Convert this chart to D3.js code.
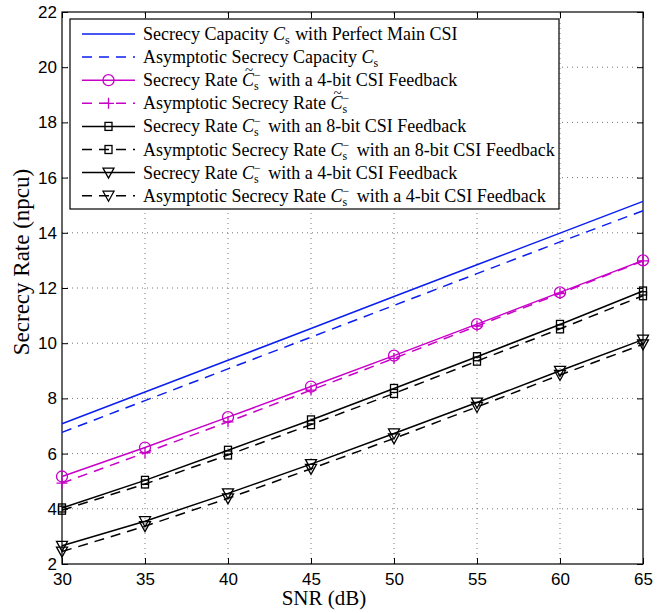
<!DOCTYPE html>
<html lang="en">
<head>
<meta charset="UTF-8">
<title>Secrecy Rate vs SNR</title>
<script src="https://cdn.jsdelivr.net/npm/d3@7/dist/d3.min.js"></script>
<style>
    body { margin: 0; background: #fff; }
    svg text { fill: #000; }
</style>
</head>
<body>
<div id="chart"></div>
<script>
// data
const snr = [30, 35, 40, 45, 50, 55, 60, 65];
const capPerfect   = [7.08, 8.23, 9.38, 10.53, 11.69, 12.84, 13.99, 15.14];
const capAsym      = [6.77, 7.92, 9.07, 10.22, 11.37, 12.52, 13.67, 14.80];
const rate4Tilde   = [5.17, 6.22, 7.32, 8.43, 9.55, 10.69, 11.84, 13.00];
const asym4Tilde   = [4.93, 6.03, 7.15, 8.30, 9.45, 10.62, 11.80, 12.98];
const rate8        = [4.03, 5.03, 6.12, 7.22, 8.36, 9.51, 10.68, 11.89];
const asym8        = [3.95, 4.90, 5.95, 7.05, 8.18, 9.35, 10.52, 11.72];
const rate4        = [2.66, 3.55, 4.56, 5.62, 6.73, 7.85, 9.00, 10.13];
const asym4        = [2.45, 3.37, 4.38, 5.45, 6.55, 7.69, 8.85, 9.96];
const xTicks = [30, 35, 40, 45, 50, 55, 60, 65];
const yTicks = [2, 4, 6, 8, 10, 12, 14, 16, 18, 20, 22];

const width = 670, height = 613;
const margin = { top: 12, right: 27, bottom: 49, left: 62 };

const BLUE = '#0a1ef0', MAG = '#c800c8', BLK = '#000';
const DASH = '10,7';

// label parts: n normal text, c script C, t tilde C, s subscript, ps sub+minus superscript
const series = [
    { y: capPerfect, color: BLUE, dash: null, marker: null,
      label: [['Secrecy Capacity ', 'n'], ['C', 'c'], ['s', 's'], [' with Perfect Main CSI', 'n']] },
    { y: capAsym, color: BLUE, dash: DASH, marker: null,
      label: [['Asymptotic Secrecy Capacity ', 'n'], ['C', 'c'], ['s', 's']] },
    { y: rate4Tilde, color: MAG, dash: null, marker: 'circle',
      label: [['Secrecy Rate ', 'n'], ['C', 't'], ['s', 'ps'], [' with a 4-bit CSI Feedback', 'n']] },
    { y: asym4Tilde, color: MAG, dash: DASH, marker: 'plus',
      label: [['Asymptotic Secrecy Rate ', 'n'], ['C', 't'], ['s', 'ps']] },
    { y: rate8, color: BLK, dash: null, marker: 'square',
      label: [['Secrecy Rate ', 'n'], ['C', 'c'], ['s', 'ps'], [' with an 8-bit CSI Feedback', 'n']] },
    { y: asym8, color: BLK, dash: DASH, marker: 'square',
      label: [['Asymptotic Secrecy Rate ', 'n'], ['C', 'c'], ['s', 'ps'], [' with an 8-bit CSI Feedback', 'n']] },
    { y: rate4, color: BLK, dash: null, marker: 'triangle',
      label: [['Secrecy Rate ', 'n'], ['C', 'c'], ['s', 'ps'], [' with a 4-bit CSI Feedback', 'n']] },
    { y: asym4, color: BLK, dash: DASH, marker: 'triangle',
      label: [['Asymptotic Secrecy Rate ', 'n'], ['C', 'c'], ['s', 'ps'], [' with a 4-bit CSI Feedback', 'n']] }
];

const svg = d3.select('#chart').append('svg')
    .attr('width', width).attr('height', height);

const x = d3.scaleLinear().domain([30, 65]).range([margin.left, width - margin.right]);
const y = d3.scaleLinear().domain([2, 22]).range([height - margin.bottom, margin.top]);
const x0 = x.range()[0], x1 = x.range()[1], y0 = y.range()[0], y1 = y.range()[1];

// grid
const grid = svg.append('g').attr('stroke', '#777').attr('stroke-width', 1)
    .attr('stroke-dasharray', '1,4');
grid.selectAll('.gx').data(xTicks.slice(1, -1)).enter().append('line')
    .attr('x1', d => x(d)).attr('x2', d => x(d)).attr('y1', y0).attr('y2', y1);
grid.selectAll('.gy').data(yTicks.slice(1, -1)).enter().append('line')
    .attr('y1', d => y(d)).attr('y2', d => y(d)).attr('x1', x0).attr('x2', x1);

// axes (ticks inward, mirrored on top/right)
const font = 'Liberation Sans, Arial, sans-serif';
const serif = 'Liberation Serif, Times New Roman, serif';
svg.append('g').attr('transform', `translate(0,${y0})`)
    .call(d3.axisBottom(x).tickValues(xTicks).tickSize(-6).tickPadding(9));
svg.append('g').attr('transform', `translate(${x0},0)`)
    .call(d3.axisLeft(y).tickValues(yTicks).tickSize(-6).tickPadding(5));
svg.append('g').attr('transform', `translate(0,${y1})`)
    .call(d3.axisTop(x).tickValues(xTicks).tickSize(-6).tickFormat(''));
svg.append('g').attr('transform', `translate(${x1},0)`)
    .call(d3.axisRight(y).tickValues(yTicks).tickSize(-6).tickFormat(''));
svg.selectAll('.domain').remove();
svg.selectAll('.tick line').attr('stroke', '#000');
svg.selectAll('.tick text').style('font-family', font).style('font-size', '17px').attr('fill', '#000');

// frame
svg.append('rect').attr('x', x0).attr('y', y1).attr('width', x1 - x0).attr('height', y0 - y1)
    .attr('fill', 'none').attr('stroke', '#000').attr('stroke-width', 1.2);

// axis titles
svg.append('text').attr('x', 324).attr('y', 605)
    .attr('text-anchor', 'middle')
    .style('font-family', serif).style('font-size', '21px')
    .text('SNR (dB)');
svg.append('text').attr('transform', 'translate(29,262) rotate(-90)')
    .attr('text-anchor', 'middle')
    .style('font-family', serif).style('font-size', '23px')
    .text('Secrecy Rate (npcu)');

function drawMarker(g, type, cx, cy, color) {
    if (type === 'circle') {
        g.append('circle').attr('cx', cx).attr('cy', cy).attr('r', 5.5)
            .attr('fill', 'none').attr('stroke', color).attr('stroke-width', 1.3);
    } else if (type === 'plus') {
        g.append('path').attr('d', `M${cx - 5.5},${cy}H${cx + 5.5}M${cx},${cy - 5.5}V${cy + 5.5}`)
            .attr('stroke', color).attr('stroke-width', 1.3).attr('fill', 'none');
    } else if (type === 'square') {
        g.append('rect').attr('x', cx - 3.5).attr('y', cy - 4).attr('width', 7).attr('height', 8)
            .attr('fill', 'none').attr('stroke', color).attr('stroke-width', 1.3);
    } else if (type === 'triangle') {
        g.append('path').attr('d', `M${cx - 5.5},${cy - 4.5}L${cx + 5.5},${cy - 4.5}L${cx},${cy + 5.5}Z`)
            .attr('fill', 'none').attr('stroke', color).attr('stroke-width', 1.3);
    }
}

// series
const line = d3.line().x((d, i) => x(snr[i])).y(d => y(d));
const plot = svg.append('g');
series.forEach(s => {
    plot.append('path').attr('d', line(s.y))
        .attr('fill', 'none').attr('stroke', s.color).attr('stroke-width', 1.5)
        .attr('stroke-dasharray', s.dash);
    if (s.marker) {
        s.y.forEach((v, i) => drawMarker(plot, s.marker, x(snr[i]), y(v), s.color));
    }
});

// legend
const lg = svg.append('g');
lg.append('rect').attr('x', 70).attr('y', 19).attr('width', 489).attr('height', 190)
    .attr('fill', '#fff').attr('stroke', '#000').attr('stroke-width', 1.2);

// one text per row, pieces as tspans with explicit positions
function piece(t, px, py, txt, size, italic, anchor) {
    const sp = t.append('tspan').attr('x', px).attr('y', py)
        .style('font-size', size + 'px')
        .style('font-style', italic ? 'italic' : 'normal')
        .attr('text-anchor', anchor || null)
        .text(txt);
    return sp.node().getComputedTextLength();
}

series.forEach((s, i) => {
    const cy = 34 + i * 23.1;
    lg.append('line').attr('x1', 82).attr('x2', 135).attr('y1', cy).attr('y2', cy)
        .attr('stroke', s.color).attr('stroke-width', 1.5)
        .attr('stroke-dasharray', s.dash ? '10,7' : null);
    if (s.marker) drawMarker(lg, s.marker, 108.5, cy, s.color);
    const base = cy + 6;
    const t = lg.append('text').style('font-family', serif).style('white-space', 'pre');
    let cx = 143;
    s.label.forEach(([txt, st]) => {
        if (st === 'n') {
            cx += piece(t, cx, base, txt, 18, false);
        } else if (st === 'c' || st === 't') {
            const w = piece(t, cx, base, txt, 18, true);
            if (st === 't') piece(t, cx + w / 2 + 1, base - 11, '~', 15, false, 'middle');
            cx += w;
        } else if (st === 's') {
            cx += piece(t, cx, base + 4, txt, 12, false) + 1;
        } else if (st === 'ps') {
            const w1 = piece(t, cx, base + 4, txt, 12, false);
            const w2 = piece(t, cx, base - 7, '−', 12, false);
            cx += Math.max(w1, w2) + 3;
        }
    });
});
</script>
</body>
</html>
